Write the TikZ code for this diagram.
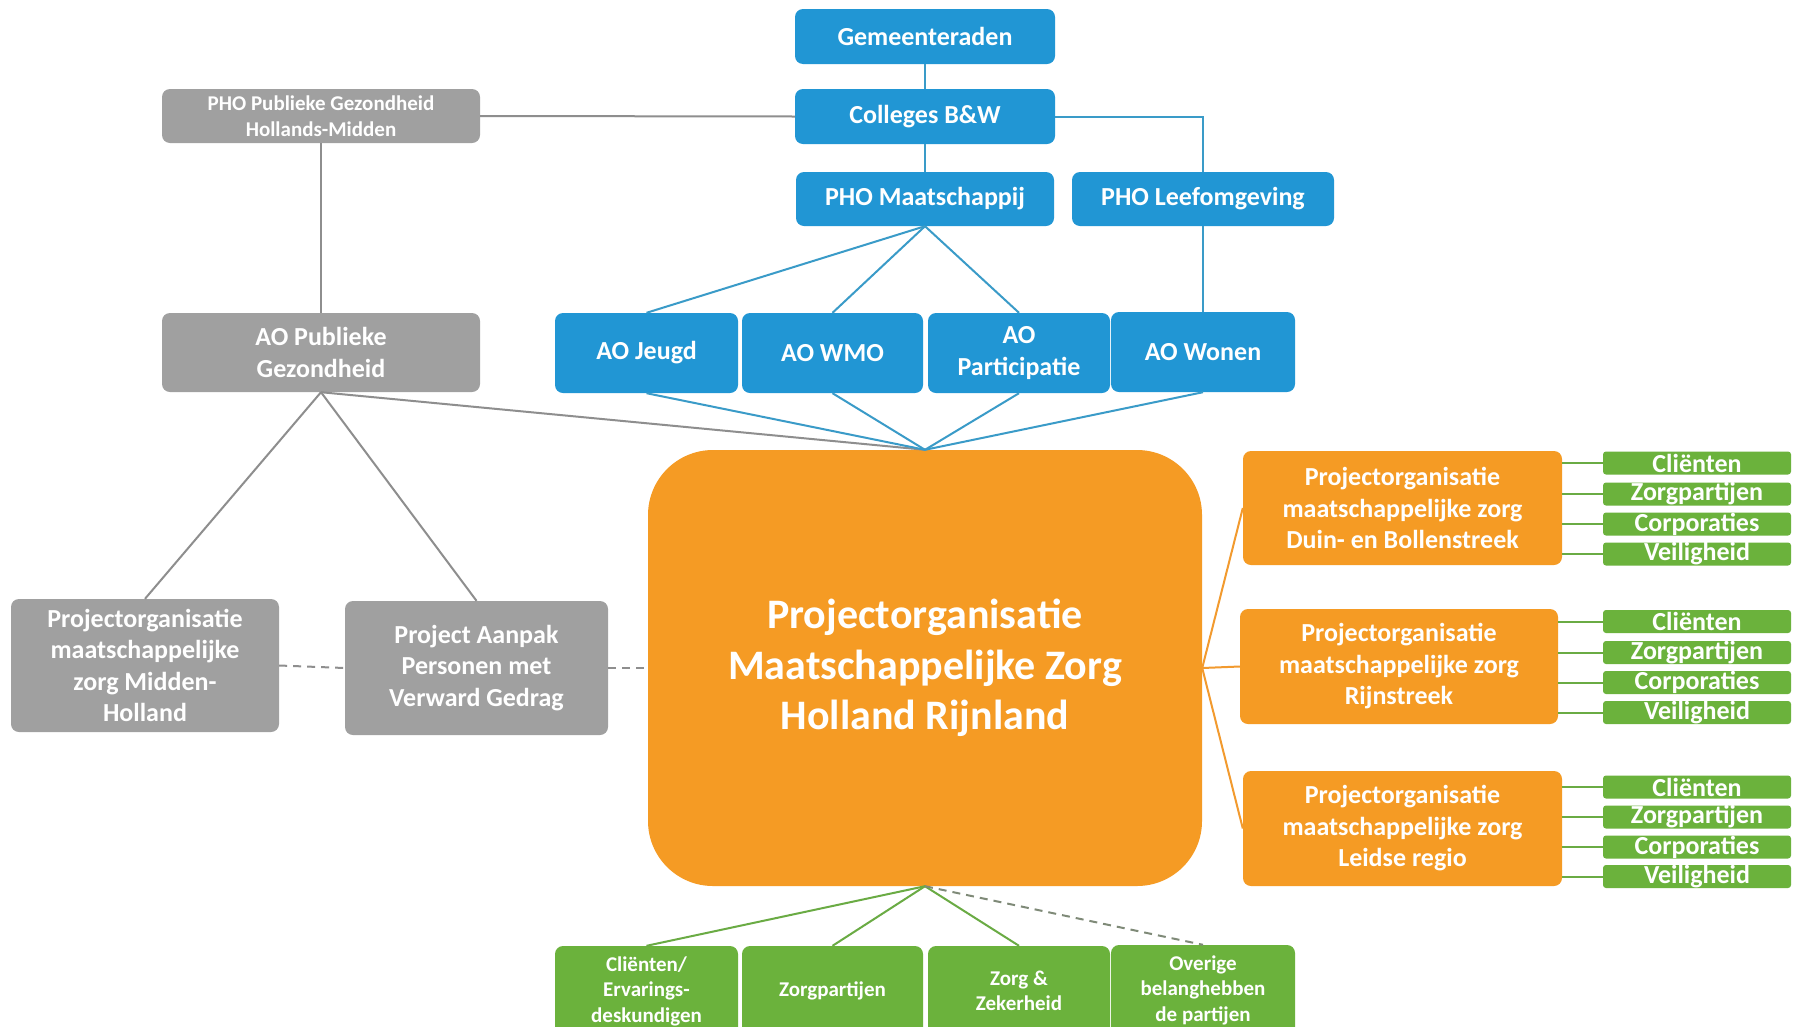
\documentclass[tikz,border=0pt]{standalone}
\usepackage{fontspec}
\setmainfont{Carlito}
\definecolor{cblue}{HTML}{2196D4}
\definecolor{cgray}{HTML}{A0A0A0}
\definecolor{corange}{HTML}{F59B24}
\definecolor{cgreen}{HTML}{6BB23C}
\definecolor{lblue}{HTML}{3A9BC8}
\definecolor{lgray}{HTML}{8E8E8E}
\definecolor{lorange}{HTML}{F29A2E}
\definecolor{lgreen}{HTML}{6AAB44}
\definecolor{ldash}{HTML}{7F8A78}
\begin{document}
\begin{tikzpicture}[x=1pt,y=-1pt,
  basebox/.style={rounded corners=8pt, text=white, align=center, inner sep=0pt,
    font=\bfseries\fontsize{26}{31.5}\selectfont},
  bbox/.style={basebox, fill=cblue},
  gbox/.style={basebox, fill=cgray},
  obox/.style={basebox, fill=corange},
  nbox/.style={basebox, fill=cgreen},
  sbox/.style={basebox, fill=cgreen, rounded corners=3pt, minimum width=188, minimum height=23},
  smallfont/.style={font=\bfseries\fontsize{21}{25.5}\selectfont},
  bline/.style={draw=lblue, line width=2pt},
  gline/.style={draw=lgray, line width=2pt},
  oline/.style={draw=lorange, line width=2pt},
  nline/.style={draw=lgreen, line width=2pt}
]
\useasboundingbox (0,0) rectangle (1798,1026);
\fill[white] (0,0) rectangle (1798,1026);
\clip (0,0) rectangle (1798,1026);

% top blue
\node[bbox, minimum width=260, minimum height=55] (gem) at (925,36.5) {Gemeenteraden};
\node[bbox, minimum width=260, minimum height=55] (col) at (925,116.5) {Colleges B\&W};
\node[bbox, minimum width=258, minimum height=54] (phom) at (925,199) {PHO Maatschappij};
\node[bbox, minimum width=262, minimum height=54] (phol) at (1203,199) {PHO Leefomgeving};
\node[gbox, smallfont, minimum width=318, minimum height=54] (phopg) at (321,116) {PHO Publieke Gezondheid\\Hollands-Midden};

% AO row
\node[gbox, minimum width=318, minimum height=79] (aopg) at (321,352.5) {AO Publieke\\Gezondheid};
\node[bbox, minimum width=183, minimum height=80] (aoj) at (646.5,353) {AO Jeugd};
\node[bbox, minimum width=181, minimum height=80] (aow) at (832.5,353) {AO WMO};
\node[bbox, minimum width=182, minimum height=80] (aop) at (1019,353) {AO\\Participatie};
\node[bbox, minimum width=184, minimum height=80] (aowo) at (1203,352) {AO Wonen};

% main
\node[obox, rounded corners=65pt, minimum width=554, minimum height=436,
  font=\bfseries\fontsize{42}{50.5}\selectfont] (main) at (925,668)
  {Projectorganisatie\\Maatschappelijke Zorg\\Holland Rijnland};

% gray left
\node[gbox, minimum width=268, minimum height=133] (pmh) at (145,665.5)
  {Projectorganisatie\\maatschappelijke\\zorg Midden-\\Holland};
\node[gbox, minimum width=263, minimum height=134] (pa) at (476.5,668)
  {Project Aanpak\\Personen met\\Verward Gedrag};

% right orange
\node[obox, minimum width=319, minimum height=114] (r1) at (1402.5,508)
  {Projectorganisatie\\maatschappelijke zorg\\Duin- en Bollenstreek};
\node[obox, minimum width=318, minimum height=115] (r2) at (1399,666.5)
  {Projectorganisatie\\maatschappelijke zorg\\Rijnstreek};
\node[obox, minimum width=319, minimum height=115] (r3) at (1402.5,828.5)
  {Projectorganisatie\\maatschappelijke zorg\\Leidse regio};

% small green
\node[sbox] (a1) at (1697,463) {Cliënten};
\node[sbox] (a2) at (1697,494) {Zorgpartijen};
\node[sbox] (a3) at (1697,524) {Corporaties};
\node[sbox] (a4) at (1697,554) {Veiligheid};
\node[sbox] (b1) at (1697,621.5) {Cliënten};
\node[sbox] (b2) at (1697,652.5) {Zorgpartijen};
\node[sbox] (b3) at (1697,682.5) {Corporaties};
\node[sbox] (b4) at (1697,712.5) {Veiligheid};
\node[sbox] (c1) at (1697,787) {Cliënten};
\node[sbox] (c2) at (1697,817) {Zorgpartijen};
\node[sbox] (c3) at (1697,847) {Corporaties};
\node[sbox] (c4) at (1697,876.5) {Veiligheid};

% bottom green
\node[nbox, smallfont, minimum width=183, minimum height=90] (bg1) at (646.5,991) {Cliënten/\\Ervarings-\\deskundigen};
\node[nbox, smallfont, minimum width=181, minimum height=90] (bg2) at (832.5,991) {Zorgpartijen};
\node[nbox, smallfont, minimum width=182, minimum height=90] (bg3) at (1019,991) {Zorg \&\\Zekerheid};
\node[nbox, smallfont, minimum width=184, minimum height=90] (bg4) at (1203,990) {Overige\\belanghebben\\de partijen};

% connectors top
\draw[bline] (gem.south) -- (col.north);
\draw[bline] (col.south) -- (phom.north);
\draw[bline] (col.east) -| (phol.north);
\draw[bline] (phol.south) -- (aowo.north);
\draw[gline] (col.west) -- (phopg.east);
\draw[gline] (phopg.south) -- (aopg.north);
\draw[bline] (phom.south) -- (aoj.north);
\draw[bline] (phom.south) -- (aow.north);
\draw[bline] (phom.south) -- (aop.north);

% to main
\draw[gline] (aopg.south) -- (main.north);
\draw[bline] (aoj.south) -- (main.north);
\draw[bline] (aow.south) -- (main.north);
\draw[bline] (aop.south) -- (main.north);
\draw[bline] (aowo.south) -- (main.north);

% gray below
\draw[gline] (aopg.south) -- (pmh.north);
\draw[gline] (aopg.south) -- (pa.north);
\draw[gline, dash pattern=on 8pt off 6pt] (pmh.east) -- (pa.west);
\draw[gline, dash pattern=on 8pt off 6pt] (pa.east) -- (main.west);

% orange right
\draw[oline] (main.east) -- (r1.west);
\draw[oline] (main.east) -- (r2.west);
\draw[oline] (main.east) -- (r3.west);

% green right
\foreach \s in {a1,a2,a3,a4} \draw[nline] (r1.east |- \s.west) -- (\s.west);
\foreach \s in {b1,b2,b3,b4} \draw[nline] (r2.east |- \s.west) -- (\s.west);
\foreach \s in {c1,c2,c3,c4} \draw[nline] (r3.east |- \s.west) -- (\s.west);

% green bottom
\draw[nline] (main.south) -- (bg1.north);
\draw[nline] (main.south) -- (bg2.north);
\draw[nline] (main.south) -- (bg3.north);
\draw[draw=ldash, line width=2pt, dash pattern=on 8pt off 6pt] (main.south) -- (bg4.north);
\end{tikzpicture}
\end{document}
